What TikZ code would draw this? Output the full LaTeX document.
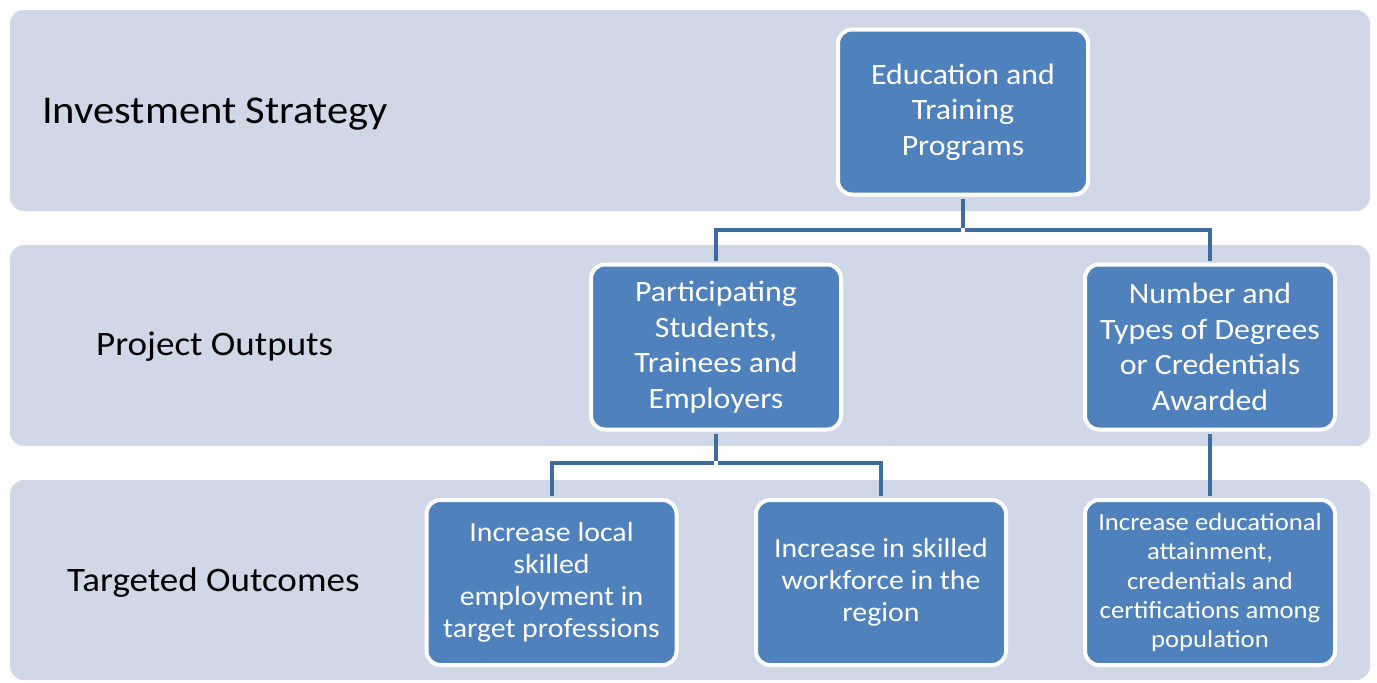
\documentclass[tikz,border=0pt]{standalone}
\usepackage{fontspec}
\usepackage{xcolor}
\setmainfont[FakeStretch=1.08]{Carlito}
\definecolor{bandfill}{HTML}{D0D8E8}
\definecolor{boxfill}{HTML}{4F81BD}
\definecolor{linkcol}{HTML}{3E6BA0}

\begin{document}
\begin{tikzpicture}[x=1pt,y=-1pt,
        band/.style={fill=bandfill,draw=none,rounded corners=14pt},
        blockbox/.style={draw=white,line width=4pt,fill=boxfill,rounded corners=14pt,
            text=white,align=center,minimum width=250pt,minimum height=165pt,inner sep=0pt},
        bigtxt/.style={font=\fontsize{29.5}{35.5}\selectfont},
        midtxt/.style={font=\fontsize{27.6}{32}\selectfont},
        smalltxt/.style={font=\fontsize{24.7}{29.3}\selectfont},
        rowlabel/.style={anchor=base west,inner sep=0pt},
        link/.style={draw=linkcol,line width=4pt,shorten <=2pt,shorten >=2pt}]
        \useasboundingbox (0,0) rectangle (1377,683);
        \fill[band] (10,10) rectangle (1370,211);
        \fill[band] (10,245) rectangle (1370,446);
        \fill[band] (10,480) rectangle (1370,680);

        \node[rowlabel,font=\fontsize{39.4}{46}\selectfont] (lstrat) at (42,123) {Investment Strategy};
        \node[rowlabel,font=\fontsize{34.3}{40}\selectfont] (lout) at (96,355.5) {Project Outputs};
        \node[rowlabel,font=\fontsize{34.3}{40}\selectfont] (lgoal) at (67,591.5) {Targeted Outcomes};

        \node[blockbox,bigtxt] (prog) at (963,112) {Education and\\Training\\Programs};
        \node[blockbox,bigtxt] (part) at (716,347) {Participating\\Students,\\Trainees and\\Employers};
        \node[blockbox,bigtxt] (degr) at (1210,347) {Number and\\Types of Degrees\\or Credentials\\Awarded};
        \node[blockbox,midtxt] (empl) at (551.5,582.5) {Increase local\\skilled\\employment in\\target professions};
        \node[blockbox,midtxt] (work) at (881,582.5) {Increase in skilled\\workforce in the\\region};
        \node[blockbox,smalltxt] (educ) at (1210,582.5) {Increase educational\\attainment,\\credentials and\\certifications among\\population};

        \coordinate (busa) at (963,230);
        \coordinate (busb) at (716,463);
        \draw[link] (prog.south) -- (busa);
        \draw[link] (busa) -| (part.north);
        \draw[link] (busa) -| (degr.north);
        \draw[link] (part.south) -- (busb);
        \draw[link] (busb) -| (empl.north);
        \draw[link] (busb) -| (work.north);
        \draw[link] (degr.south) -- (educ.north);
    \end{tikzpicture}
\end{document}
